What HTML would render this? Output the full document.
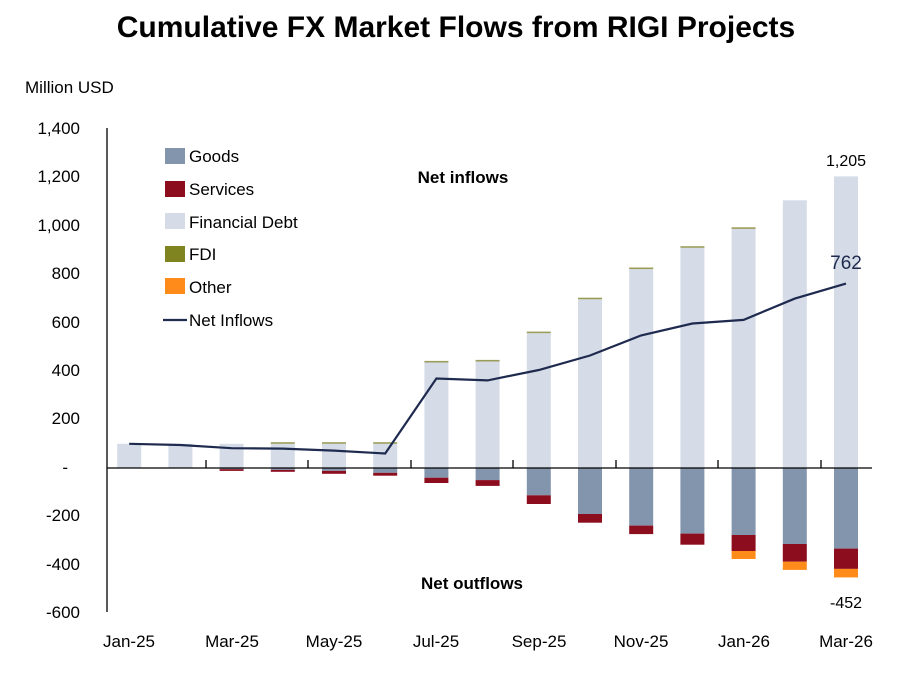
<!DOCTYPE html>
<html><head><meta charset="utf-8"><style>
body{margin:0;background:#fff;}
svg{display:block;font-family:"Liberation Sans",sans-serif;}
</style></head><body>
<svg width="900" height="673" viewBox="0 0 900 673" xmlns="http://www.w3.org/2000/svg">
<text x="456" y="37" text-anchor="middle" font-size="30" font-weight="bold" fill="#000">Cumulative FX Market Flows from RIGI Projects</text>
<text x="25" y="93" font-size="17" fill="#000">Million USD</text>
<g font-size="17" fill="#000" text-anchor="end">
<text x="80" y="134">1,400</text>
<text x="80" y="182">1,200</text>
<text x="80" y="231">1,000</text>
<text x="80" y="279">800</text>
<text x="80" y="328">600</text>
<text x="80" y="376">400</text>
<text x="80" y="424">200</text>
<text x="68" y="473">-</text>
<text x="80" y="521">-200</text>
<text x="80" y="570">-400</text>
<text x="80" y="618">-600</text>
</g>
<g fill="#d5dce7">
<rect x="117.2" y="443.8" width="24" height="24.2"/>
<rect x="168.4" y="443.8" width="24" height="24.2"/>
<rect x="219.6" y="443.8" width="24" height="24.2"/>
<rect x="270.8" y="443.8" width="24" height="24.2"/>
<rect x="322" y="443.8" width="24" height="24.2"/>
<rect x="373.2" y="443.8" width="24" height="24.2"/>
<rect x="424.4" y="362.5" width="24" height="105.5"/>
<rect x="475.6" y="361.5" width="24" height="106.5"/>
<rect x="526.8" y="333.2" width="24" height="134.8"/>
<rect x="578" y="299.3" width="24" height="168.7"/>
<rect x="629.2" y="269.1" width="24" height="198.9"/>
<rect x="680.4" y="247.8" width="24" height="220.2"/>
<rect x="731.6" y="228.9" width="24" height="239.1"/>
<rect x="782.8" y="200.3" width="24" height="267.7"/>
<rect x="834" y="176.4" width="24" height="291.6"/>
</g>
<g fill="#9a9c5a">
<rect x="270.8" y="442.2" width="24" height="1.6"/>
<rect x="322" y="442.2" width="24" height="1.6"/>
<rect x="373.2" y="442.2" width="24" height="1.6"/>
<rect x="424.4" y="360.9" width="24" height="1.6"/>
<rect x="475.6" y="359.9" width="24" height="1.6"/>
<rect x="526.8" y="331.6" width="24" height="1.6"/>
<rect x="578" y="297.7" width="24" height="1.6"/>
<rect x="629.2" y="267.5" width="24" height="1.6"/>
<rect x="680.4" y="246.2" width="24" height="1.6"/>
<rect x="731.6" y="227.3" width="24" height="1.6"/>
</g>
<g fill="#8395ad">
<rect x="219.6" y="468" width="24" height="1.2"/>
<rect x="270.8" y="468" width="24" height="1.9"/>
<rect x="322" y="468" width="24" height="2.9"/>
<rect x="373.2" y="468" width="24" height="4.8"/>
<rect x="424.4" y="468" width="24" height="9.7"/>
<rect x="475.6" y="468" width="24" height="12.1"/>
<rect x="526.8" y="468" width="24" height="27.3"/>
<rect x="578" y="468" width="24" height="46"/>
<rect x="629.2" y="468" width="24" height="57.6"/>
<rect x="680.4" y="468" width="24" height="65.6"/>
<rect x="731.6" y="468" width="24" height="67"/>
<rect x="782.8" y="468" width="24" height="76"/>
<rect x="834" y="468" width="24" height="80.6"/>
</g>
<g fill="#8b0d1e">
<rect x="219.6" y="469.2" width="24" height="1.7"/>
<rect x="270.8" y="469.9" width="24" height="1.9"/>
<rect x="322" y="470.9" width="24" height="2.9"/>
<rect x="373.2" y="472.8" width="24" height="2.9"/>
<rect x="424.4" y="477.7" width="24" height="5.3"/>
<rect x="475.6" y="480.1" width="24" height="5.8"/>
<rect x="526.8" y="495.3" width="24" height="8.7"/>
<rect x="578" y="514" width="24" height="8.7"/>
<rect x="629.2" y="525.6" width="24" height="8.5"/>
<rect x="680.4" y="533.6" width="24" height="11.1"/>
<rect x="731.6" y="535" width="24" height="16"/>
<rect x="782.8" y="544" width="24" height="17.7"/>
<rect x="834" y="548.6" width="24" height="20.3"/>
</g>
<g fill="#ff8c1a">
<rect x="731.6" y="551" width="24" height="8"/>
<rect x="782.8" y="561.7" width="24" height="8.2"/>
<rect x="834" y="568.9" width="24" height="8.5"/>
</g>
<line x1="107" y1="128" x2="107" y2="612" stroke="#000" stroke-width="1.3"/>
<line x1="107" y1="468" x2="872" y2="468" stroke="#000" stroke-width="1.3"/>
<g stroke="#000" stroke-width="1.3">
<line x1="206" y1="460" x2="206" y2="468"/><line x1="308" y1="460" x2="308" y2="468"/><line x1="411" y1="460" x2="411" y2="468"/><line x1="513" y1="460" x2="513" y2="468"/><line x1="616" y1="460" x2="616" y2="468"/><line x1="718" y1="460" x2="718" y2="468"/><line x1="821" y1="460" x2="821" y2="468"/>
</g>
<polyline fill="none" stroke="#1f2a4f" stroke-width="2.2" points="129.2,443.8 180.4,445 231.6,448.2 282.8,448.6 334,450.6 385.2,453.5 436.4,378.5 487.6,380.4 538.8,370 590,355.5 641.2,335.4 692.4,323.5 743.6,319.9 794.8,298.6 846,283.6"/>
<g font-size="17" fill="#000" text-anchor="middle">
<text x="129" y="647">Jan-25</text><text x="232" y="647">Mar-25</text><text x="334" y="647">May-25</text><text x="436" y="647">Jul-25</text><text x="539" y="647">Sep-25</text><text x="641" y="647">Nov-25</text><text x="744" y="647">Jan-26</text><text x="846" y="647">Mar-26</text>
</g>
<text x="463" y="183" text-anchor="middle" font-size="17" font-weight="bold">Net inflows</text>
<text x="472" y="589" text-anchor="middle" font-size="17" font-weight="bold">Net outflows</text>
<text x="846" y="166" text-anchor="middle" font-size="16">1,205</text>
<text x="846" y="269" text-anchor="middle" font-size="19" fill="#1f2a4f">762</text>
<text x="846" y="608" text-anchor="middle" font-size="16">-452</text>
<g font-size="17" fill="#000">
<rect x="165" y="148" width="20" height="16" fill="#8395ad"/><text x="189" y="162">Goods</text>
<rect x="165" y="181" width="20" height="16" fill="#8b0d1e"/><text x="189" y="195">Services</text>
<rect x="165" y="213" width="20" height="16" fill="#d5dce7"/><text x="189" y="228">Financial Debt</text>
<rect x="165" y="246" width="20" height="16" fill="#7f8421"/><text x="189" y="260">FDI</text>
<rect x="165" y="278" width="20" height="16" fill="#ff8c1a"/><text x="189" y="293">Other</text>
<line x1="163" y1="320" x2="187" y2="320" stroke="#1f2a4f" stroke-width="2.2"/><text x="189" y="326">Net Inflows</text>
</g>
</svg>
</body></html>
